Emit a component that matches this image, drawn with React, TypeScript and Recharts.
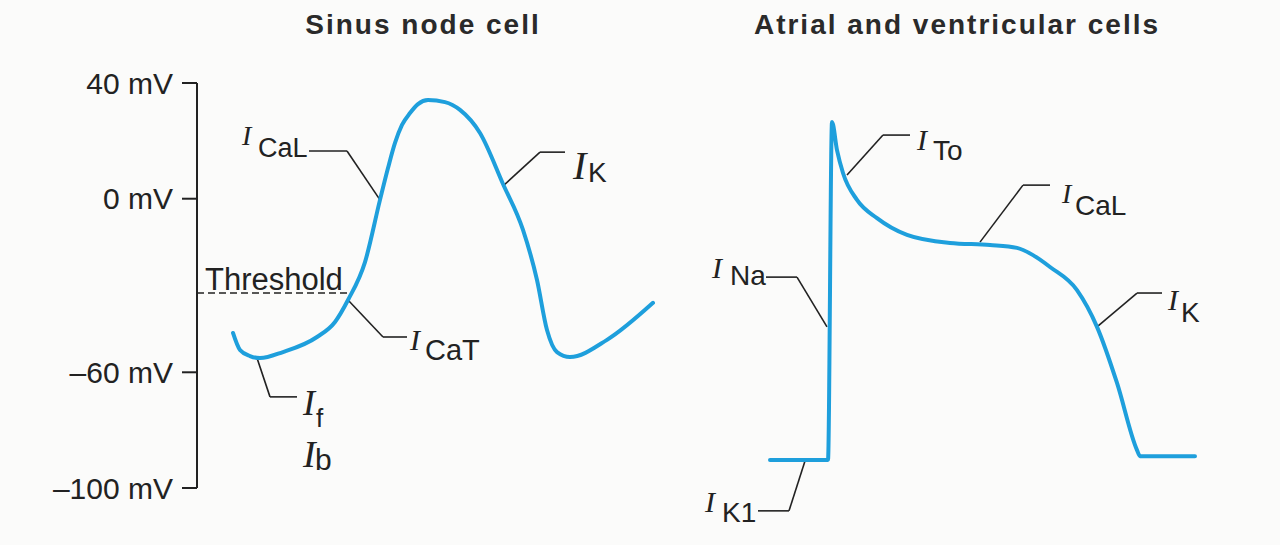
import { LineChart, Line, XAxis, YAxis, ReferenceLine, ReferenceDot } from 'recharts';

// membrane potential (mV) against time (ms)
const sinusTime = [36, 43, 53, 63, 86, 120, 138, 151, 168, 183, 191, 198, 205, 213, 221, 231, 248, 263, 283, 306, 326, 340, 350, 360, 373, 410, 456];
const sinusMv = [-46.4, -52.3, -54.4, -55.1, -53.0, -47.8, -42.6, -35.0, -21.9, -0.4, 10.6, 19.3, 25.5, 29.6, 32.7, 34.1, 33.4, 30.7, 22.7, 5.1, -10.8, -28.1, -45.4, -53.0, -54.7, -48.8, -36.0];

const atrialTime = [70, 128, 132, 137, 143, 157, 177, 207, 250, 290, 317, 333, 350, 377, 397, 417, 437, 440, 495];
const atrialMv = [-90.3, -90.3, 26.5, 16.8, 8.9, -0.4, -6.7, -12.5, -15.3, -16.0, -17.0, -19.5, -23.6, -31.6, -44.3, -63.7, -86.9, -89.0, -89.0];

const yTicks = [40, 0, -60, -100];
const threshold = -32.6;

// current labels: name, anchor (t, mV), leader polyline from curve to label
type Note = { sub: string; t: number; v: number; leader: [number, number][] };

const sinusNotes: Note[] = [
  { sub: 'CaL', t: 45, v: 18.6, leader: [[183, -0.4], [150, 16.5], [112, 16.5]] },
  { sub: 'CaT', t: 213, v: -52.3, leader: [[151, -35.0], [186, -47.8], [210, -47.8]] },
  { sub: 'K', t: 376, v: 6.8, leader: [[306, 4.4], [343, 16.1], [368, 16.1]] },
  { sub: 'f', t: 106, v: -74.8, leader: [[60, -55.1], [73, -68.5], [100, -68.5]] },
  { sub: 'b', t: 106, v: -92.7, leader: [] },
];

const atrialNotes: Note[] = [
  { sub: 'Na', t: 12, v: -27.4, leader: [[127, -44.3], [97, -27.1], [66, -27.1]] },
  { sub: 'K1', t: 5, v: -108.3, leader: [[105, -90.7], [89, -107.9], [58, -107.9]] },
  { sub: 'To', t: 217, v: 16.8, leader: [[147, 8.2], [183, 22.0], [210, 22.0]] },
  { sub: 'CaL', t: 362, v: -1.5, leader: [[280, -15.0], [323, 4.7], [350, 4.7]] },
  { sub: 'K', t: 468, v: -38.5, leader: [[397, -44.3], [437, -32.6], [462, -32.6]] },
];

// typography per label: [I size, subscript size, subscript dx, subscript dy]
const noteType: Record<string, [number, number, number, number]> = {
  'sinus-CaL': [28, 27, 16, 12],
  'sinus-CaT': [30, 29, 15, 10],
  'sinus-K': [40, 28, 15, 3],
  'sinus-f': [36, 26, 13, 12],
  'sinus-b': [38, 30, 12, 3],
  'atrial-Na': [30, 28, 18, 7],
  'atrial-K1': [30, 28, 17, 10],
  'atrial-To': [30, 28, 16, 10],
  'atrial-CaL': [28, 28, 13, 12],
  'atrial-K': [30, 28, 13, 12],
};

const sinusData = sinusTime.map((t, i) => ({ t, v: sinusMv[i] }));
const atrialData = atrialTime.map((t, i) => ({ t, v: atrialMv[i] }));

const BLUE = '#1e9fdc';
const INK = '#222';
const SANS = '"Liberation Sans", Arial, sans-serif';
const SERIF = '"Liberation Serif", "Times New Roman", serif';

const fmtMv = (v: number) => `${v < 0 ? '\u2013' + -v : v} mV`;

function NoteText({ cx, cy, sub, type }: { cx: number; cy: number; sub: string; type: [number, number, number, number] }) {
  const [iSize, subSize, sx, sy] = type;
  return (
    <text x={cx} y={cy} fill={INK}>
      <tspan fontFamily={SERIF} fontStyle="italic" fontSize={iSize}>I</tspan>
      <tspan x={cx + sx} dy={sy} fontFamily={SANS} fontSize={subSize}>{sub}</tspan>
    </text>
  );
}

function renderNotes(notes: Note[], prefix: string) {
  const out: any[] = [];
  notes.forEach((n) => {
    for (let i = 0; i < n.leader.length - 1; i++) {
      const [a, b] = [n.leader[i], n.leader[i + 1]];
      out.push(
        <ReferenceLine
          key={`${prefix}-${n.sub}-l${i}`}
          segment={[{ x: a[0], y: a[1] }, { x: b[0], y: b[1] }]}
          stroke={INK}
          strokeWidth={1.6}
          ifOverflow="visible"
        />
      );
    }
    out.push(
      <ReferenceDot
        key={`${prefix}-${n.sub}-t`}
        x={n.t}
        y={n.v}
        ifOverflow="visible"
        shape={(p: any) => <NoteText cx={p.cx} cy={p.cy} sub={n.sub} type={noteType[`${prefix}-${n.sub}`]} />}
      />
    );
  });
  return out;
}

const titleStyle: React.CSSProperties = {
  position: 'absolute',
  top: 11,
  fontFamily: SANS,
  fontWeight: 700,
  fontSize: 28,
  lineHeight: '28px',
  letterSpacing: 2,
  color: '#2a2a2a',
  transform: 'translateX(-50%)',
  whiteSpace: 'nowrap',
};

export default function App() {
  return (
    <div style={{ position: 'relative', width: 1280, height: 545, background: '#fbfbfa', overflow: 'hidden' }}>
      <style>{'body{margin:0}'}</style>
      <div style={{ ...titleStyle, left: 423 }}>Sinus node cell</div>
      <div style={{ ...titleStyle, left: 957 }}>Atrial and ventricular cells</div>

      <div style={{ position: 'absolute', left: 0, top: 0 }}>
        <LineChart width={680} height={545} data={sinusData} margin={{ top: 83, right: 0, bottom: 57, left: 0 }}>
          <XAxis dataKey="t" type="number" domain={[0, 483]} hide />
          <YAxis
            type="number"
            domain={[-100, 40]}
            ticks={yTicks}
            width={197}
            tickFormatter={fmtMv}
            tick={{ fill: INK, fontSize: 30, fontFamily: SANS }}
            tickSize={15}
            tickMargin={9}
            axisLine={{ stroke: INK, strokeWidth: 2 }}
            tickLine={{ stroke: INK, strokeWidth: 2 }}
            allowDataOverflow
          />
          <ReferenceLine
            segment={[{ x: 0, y: threshold }, { x: 150, y: threshold }]}
            stroke={INK}
            strokeWidth={1.6}
            strokeDasharray="7 4"
            ifOverflow="visible"
          />
          <ReferenceDot
            x={8}
            y={-31.6}
            ifOverflow="visible"
            shape={(p: any) => (
              <text x={p.cx} y={p.cy} fill={INK} fontFamily={SANS} fontSize={31}>Threshold</text>
            )}
          />
          {renderNotes(sinusNotes, 'sinus')}
          <Line
            type="monotone"
            dataKey="v"
            stroke={BLUE}
            strokeWidth={4}
            strokeLinecap="round"
            dot={false}
            isAnimationActive={false}
          />
        </LineChart>
      </div>

      <div style={{ position: 'absolute', left: 680, top: 0 }}>
        <LineChart width={600} height={545} data={atrialData} margin={{ top: 83, right: 60, bottom: 57, left: 20 }}>
          <XAxis dataKey="t" type="number" domain={[0, 520]} hide />
          <YAxis type="number" domain={[-100, 40]} hide allowDataOverflow />
          {renderNotes(atrialNotes, 'atrial')}
          <Line
            type="monotone"
            dataKey="v"
            stroke={BLUE}
            strokeWidth={4}
            strokeLinecap="round"
            dot={false}
            isAnimationActive={false}
          />
        </LineChart>
      </div>
    </div>
  );
}
